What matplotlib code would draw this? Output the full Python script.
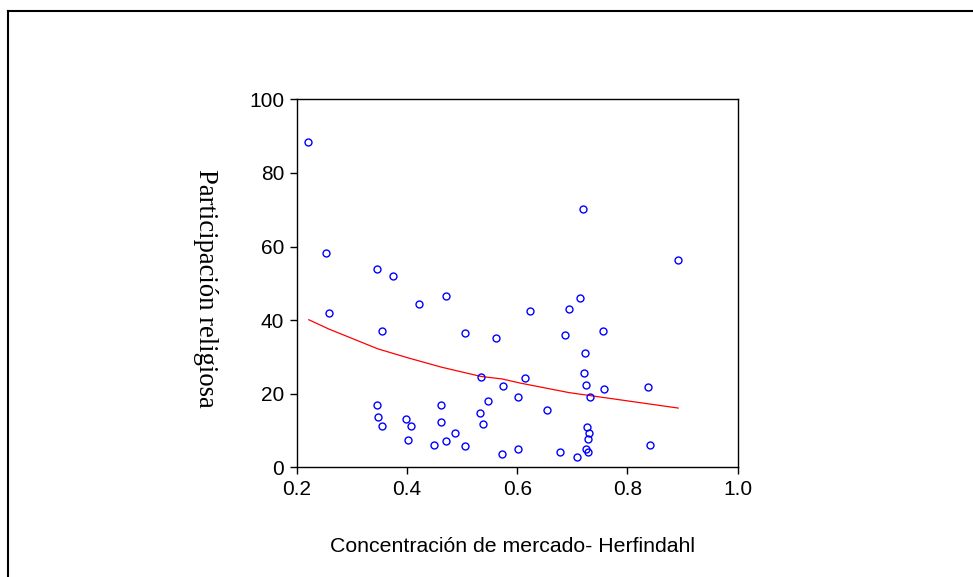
import numpy as np
import matplotlib.pyplot as plt
from matplotlib.lines import Line2D

# scatter data: Herfindahl concentration vs religious participation
herfindahl = [0.221, 0.254, 0.346, 0.375, 0.258, 0.422, 0.471, 0.354, 0.506,
              0.562, 0.534, 0.574, 0.601, 0.346, 0.461, 0.547, 0.347, 0.399,
              0.355, 0.407, 0.462, 0.532, 0.538, 0.488, 0.402, 0.450, 0.471,
              0.506, 0.572, 0.601, 0.714, 0.624, 0.694, 0.686, 0.755, 0.723,
              0.615, 0.722, 0.725, 0.757, 0.838, 0.732, 0.654, 0.727, 0.731,
              0.729, 0.841, 0.724, 0.728, 0.678, 0.709, 0.719, 0.891]
participacion = [88.4, 58.3, 53.8, 51.9, 41.9, 44.4, 46.5, 37.1, 36.4,
                 35.2, 24.5, 22.2, 19.2, 17.0, 16.8, 18.1, 13.6, 13.2,
                 11.1, 11.1, 12.2, 14.8, 11.7, 9.3, 7.3, 6.1, 7.2,
                 5.9, 3.6, 5.0, 45.9, 42.6, 42.9, 35.9, 37.1, 31.0,
                 24.4, 25.5, 22.5, 21.2, 21.7, 19.1, 15.6, 11.0, 9.3,
                 7.6, 6.1, 5.1, 4.1, 4.1, 2.8, 70.2, 56.3]

# fitted curve
fit_x = [0.222, 0.258, 0.347, 0.403, 0.463, 0.534, 0.573, 0.605, 0.694, 0.892]
fit_y = [40.1, 37.6, 32.2, 29.7, 27.2, 24.7, 24.0, 22.9, 20.3, 16.1]

fig = plt.figure(figsize=(9.73, 5.77), dpi=100)
ax = fig.add_axes([0.3049, 0.1901, 0.4533, 0.6378])

ax.plot(fit_x, fit_y, color='red', lw=0.9)
ax.plot(herfindahl, participacion, 'o', mfc='none', mec='blue', ms=5, mew=1.0)

ax.set_xlim(0.2, 1.0)
ax.set_ylim(0, 100)
ax.set_xticks([0.2, 0.4, 0.6, 0.8, 1.0])
ax.set_xticklabels(['0.2', '0.4', '0.6', '0.8', '1.0'])
ax.set_yticks([0, 20, 40, 60, 80, 100])
ax.tick_params(direction='out', length=5, width=1, labelsize=15, pad=4)
for lab in ax.get_xticklabels() + ax.get_yticklabels():
    lab.set_family('Liberation Sans')
for s in ax.spines.values():
    s.set_linewidth(1.0)

fig.text(513/973, 1-546/577, 'Concentración de mercado- Herfindahl',
         ha='center', va='center', fontsize=15.3, family='Liberation Sans')
fig.text(205/973, 1-288/577, 'Participación religiosa', rotation=-90,
         ha='center', va='center', fontsize=19.2, family='Liberation Serif')

# outer frame (left and top only visible)
fig.add_artist(Line2D([7.5/973, 7.5/973], [0, 1-11/577], color='black', lw=1.5))
fig.add_artist(Line2D([7.5/973, 1], [1-11/577, 1-11/577], color='black', lw=1.5))

fig.savefig('out.png', dpi=100)
